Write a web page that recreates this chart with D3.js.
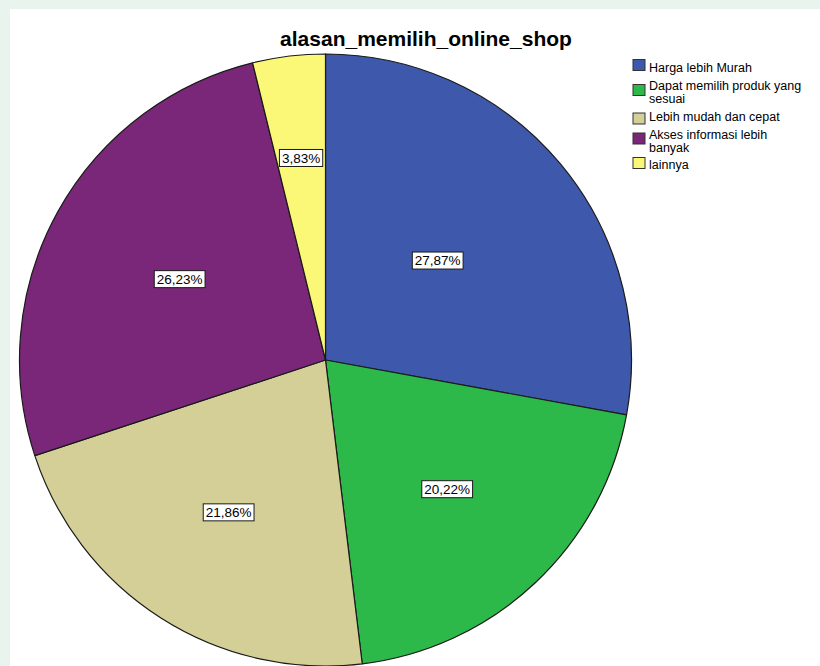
<!DOCTYPE html>
<html>
<head>
<meta charset="utf-8">
<script src="https://cdn.jsdelivr.net/npm/d3@7"></script>
<style>
  html, body { margin: 0; padding: 0; background: #ffffff; }
  svg { display: block; font-family: "Liberation Sans", Arial, sans-serif; }
</style>
</head>
<body>
<svg id="chart" width="820" height="666"></svg>
<script>
// ---- data ----
const title = "alasan_memilih_online_shop";
const categories = ["Harga lebih Murah", "Dapat memilih produk yang sesuai", "Lebih mudah dan cepat", "Akses informasi lebih banyak", "lainnya"];
const legendLines = [["Harga lebih Murah"], ["Dapat memilih produk yang", "sesuai"], ["Lebih mudah dan cepat"], ["Akses informasi lebih", "banyak"], ["lainnya"]];
const percents = [27.87, 20.22, 21.86, 26.23, 3.83];
const percentLabels = ["27,87%", "20,22%", "21,86%", "26,23%", "3,83%"];

// ---- layout / style ----
const colors = ["#3e58ab", "#2db84a", "#d4cf97", "#7b2779", "#fbf877"];
const labelRadiusFrac = [0.49, 0.58, 0.59, 0.545, 0.665];
const W = 820, H = 666;
const cx = 325.5, cy = 360, R = 306;

const svg = d3.select("#chart");

// background tint (faint page colour around chart area)
svg.append("rect").attr("x", 0).attr("y", 0).attr("width", W).attr("height", H).attr("fill", "#e9f4ee");
svg.append("rect").attr("x", 10).attr("y", 9).attr("width", W - 10).attr("height", H - 9).attr("fill", "#ffffff");

// title
svg.append("text")
  .attr("x", 426).attr("y", 46)
  .attr("text-anchor", "middle")
  .attr("font-size", 21).attr("font-weight", "bold")
  .attr("fill", "#000")
  .text(title);

// pie
const pie = d3.pie().sort(null).value(d => d);
const arcs = pie(percents);
const arc = d3.arc().innerRadius(0).outerRadius(R);

const g = svg.append("g").attr("transform", `translate(${cx},${cy})`);
g.selectAll("path.slice")
  .data(arcs)
  .join("path")
  .attr("class", "slice")
  .attr("d", arc)
  .attr("fill", (d, i) => colors[i])
  .attr("stroke", "#1a1a1a")
  .attr("stroke-width", 1.2)
  .attr("stroke-linejoin", "round");

// labels
arcs.forEach((d, i) => {
  const rr = R * labelRadiusFrac[i];
  const a = (d.startAngle + d.endAngle) / 2 - (i === 0 ? 0.03 : 0);
  const lx = Math.sin(a) * rr, ly = -Math.cos(a) * rr;
  const lg = g.append("g").attr("transform", `translate(${lx},${ly})`);
  const rect = lg.append("rect").attr("fill", "#fff").attr("stroke", "#1a1a1a").attr("stroke-width", 1);
  const t = lg.append("text")
    .attr("text-anchor", "middle")
    .attr("dy", "0.36em")
    .attr("font-size", 13.5)
    .attr("fill", "#000")
    .text(percentLabels[i]);
  const bb = t.node().getBBox();
  rect.attr("x", -bb.width / 2 - 2.5).attr("y", -8.5).attr("width", bb.width + 5).attr("height", 17);
});

// legend
const swatchY = [59.5, 84.5, 113, 133, 157.5];
const baseY = [71.5, 90, 120.5, 139, 169];
const leg = svg.append("g");
legendLines.forEach((lines, i) => {
  leg.append("rect")
    .attr("x", 633).attr("y", swatchY[i])
    .attr("width", 12).attr("height", 11)
    .attr("fill", colors[i])
    .attr("stroke", "#333").attr("stroke-width", 1);
  lines.forEach((ln, j) => {
    leg.append("text")
      .attr("x", 649).attr("y", baseY[i] + j * 13)
      .attr("font-size", 12.5)
      .attr("fill", "#000")
      .text(ln);
  });
});
</script>
</body>
</html>
